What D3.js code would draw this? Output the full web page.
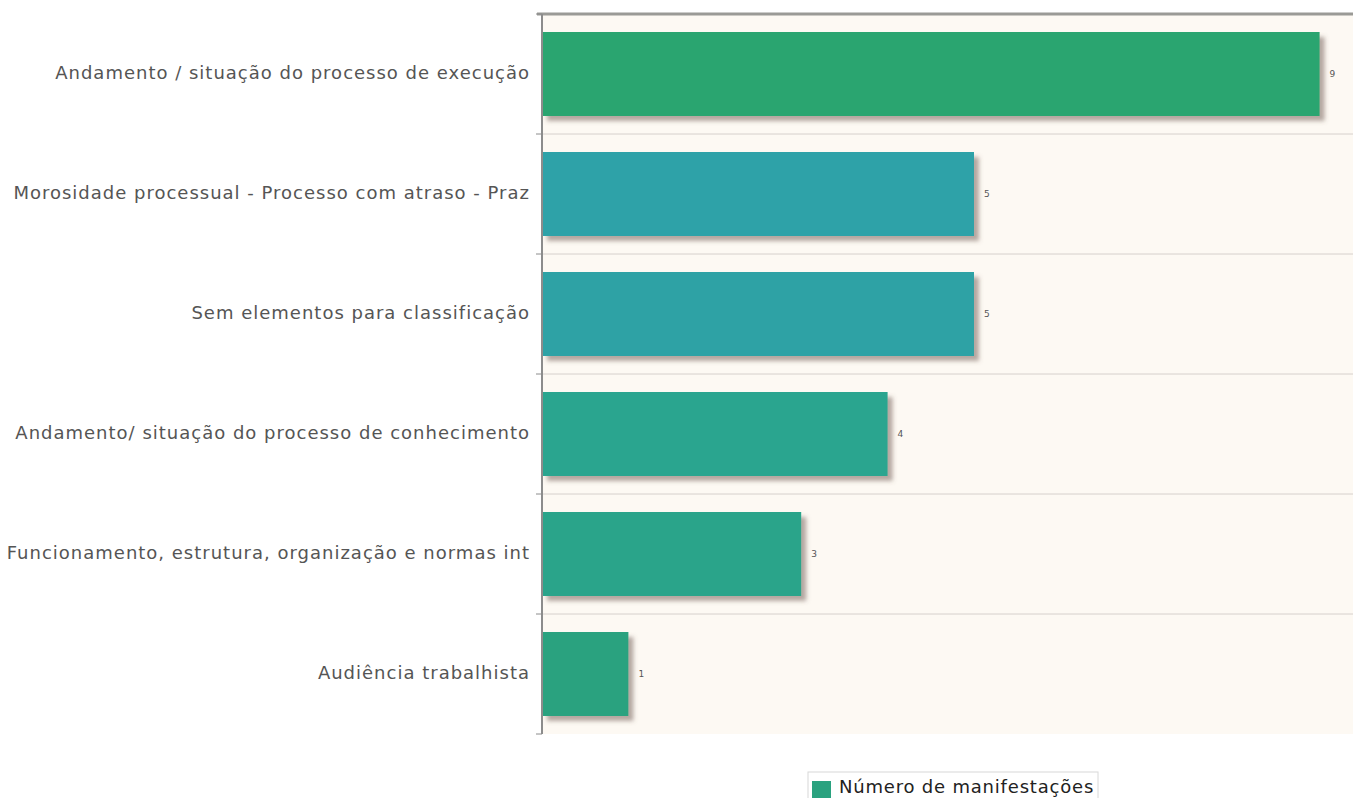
<!DOCTYPE html>
<html>
<head>
<meta charset="utf-8">
<script src="https://cdn.jsdelivr.net/npm/d3@7/dist/d3.min.js"></script>
<style>
  html,body{margin:0;padding:0;background:#fff;overflow:hidden}
  svg{display:block;font-family:"DejaVu Sans",Verdana,sans-serif}
</style>
</head>
<body>
<div id="chart"></div>
<script>
const categories = [
  'Andamento / situação do processo de execução',
  'Morosidade processual - Processo com atraso - Praz',
  'Sem elementos para classificação',
  'Andamento/ situação do processo de conhecimento',
  'Funcionamento, estrutura, organização e normas int',
  'Audiência trabalhista'
];
const values = [9, 5, 5, 4, 3, 1];
const barColors = ['#2aa56f', '#2ea2a8', '#2ea2a5', '#2ca58f', '#2ba48a', '#2aa27f'];
const seriesName = 'Número de manifestações';
const xMax = 10;

const W = 1353, H = 798;
const m = {left: 542, top: 14, right: 1406, bottom: 734};

const svg = d3.select('#chart').append('svg').attr('width', W).attr('height', H);

const defs = svg.append('defs');
const f = defs.append('filter').attr('id', 'shadow').attr('x', '-5%').attr('y', '-10%').attr('width', '120%').attr('height', '130%');
f.append('feDropShadow').attr('dx', 5).attr('dy', 5).attr('stdDeviation', 2)
  .attr('flood-color', '#6b5450').attr('flood-opacity', 0.5);
const fa = defs.append('filter').attr('id', 'axshadow').attr('x', '-5%').attr('y', '-200%').attr('width', '110%').attr('height', '600%');
fa.append('feDropShadow').attr('dx', 0).attr('dy', 3).attr('stdDeviation', 2)
  .attr('flood-color', '#000').attr('flood-opacity', 0.12);

const x = d3.scaleLinear().domain([0, xMax]).range([m.left, m.right]);
const y = d3.scaleBand().domain(categories).range([m.top, m.bottom])
  .paddingInner(0.3).paddingOuter(0.15);
const step = y.step();

// plot background
svg.append('rect').attr('x', m.left).attr('y', m.top)
  .attr('width', m.right - m.left).attr('height', m.bottom - m.top)
  .attr('fill', '#fdf9f3');

// horizontal grid lines at band edges
const edges = categories.slice(1).map(c => y(c) - y.paddingOuter() * step);
svg.append('g').selectAll('line').data(edges).join('line')
  .attr('x1', m.left).attr('x2', m.right)
  .attr('y1', d => d).attr('y2', d => d)
  .attr('stroke', '#d6d0cc').attr('stroke-width', 1);

// bars
svg.append('g').selectAll('rect').data(values).join('rect')
  .attr('x', x(0))
  .attr('y', (d, i) => y(categories[i]))
  .attr('width', d => x(d) - x(0))
  .attr('height', y.bandwidth())
  .attr('fill', (d, i) => barColors[i])
  .attr('filter', 'url(#shadow)');

// value labels
svg.append('g').selectAll('text').data(values).join('text')
  .attr('x', d => x(d) + 10)
  .attr('y', (d, i) => y(categories[i]) + y.bandwidth() / 2)
  .attr('dominant-baseline', 'middle')
  .attr('font-size', 9).attr('fill', '#555')
  .text(d => d);

// top border
svg.append('line').attr('x1', m.left - 5).attr('x2', W).attr('y1', m.top).attr('y2', m.top)
  .attr('stroke', '#9a9a96').attr('stroke-width', 3);

// left axis
const yAxis = d3.axisLeft(y).tickSize(0).tickPadding(12);
const ya = svg.append('g').attr('transform', `translate(${m.left},0)`).call(yAxis);
ya.select('.domain').remove();
ya.selectAll('text').attr('font-size', 18).attr('fill', '#555')
  .attr('letter-spacing', 1.0)
  .attr('font-family', '"DejaVu Sans",Verdana,sans-serif').attr('dy', '0.25em');
svg.append('line').attr('x1', m.left).attr('x2', m.left).attr('y1', m.top).attr('y2', m.bottom)
  .attr('stroke', '#8c8c8c').attr('stroke-width', 2);
svg.append('g').selectAll('line').data(edges.concat([m.top, m.bottom])).join('line')
  .attr('x1', m.left - 6).attr('x2', m.left).attr('y1', d => d).attr('y2', d => d)
  .attr('stroke', '#8c8c8c').attr('stroke-width', 1);

// bottom axis
svg.append('line').attr('x1', m.left - 9).attr('x2', W).attr('y1', m.bottom).attr('y2', m.bottom)
  .attr('stroke', '#8a8a8a').attr('stroke-width', 2).attr('filter', 'url(#axshadow)');

// legend
const lg = svg.append('g').attr('transform', 'translate(808,772)');
lg.append('rect').attr('x', 0).attr('y', 0).attr('width', 290).attr('height', 30)
  .attr('fill', '#fff').attr('stroke', '#d8d8d8');
lg.append('rect').attr('x', 4).attr('y', 9).attr('width', 19).attr('height', 17).attr('fill', barColors[5]);
lg.append('text').attr('x', 31).attr('y', 21).attr('font-size', 18).attr('fill', '#222')
  .attr('letter-spacing', 0.8)
  .text(seriesName);
</script>
</body>
</html>
